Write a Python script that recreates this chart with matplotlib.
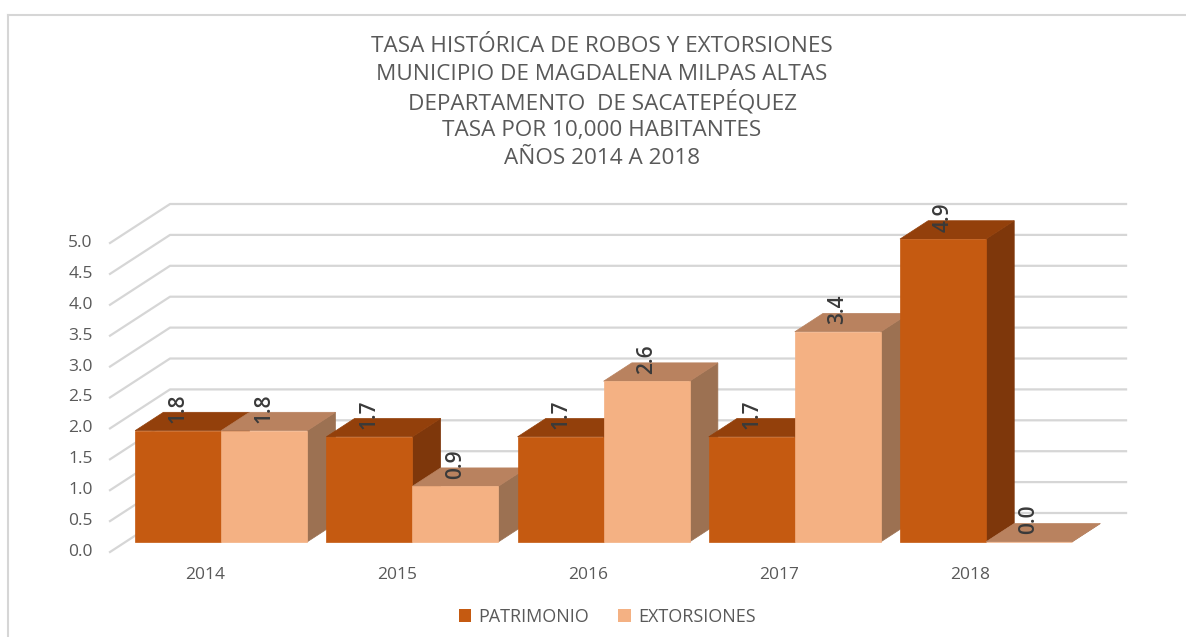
import matplotlib
matplotlib.use("Agg")
import matplotlib.pyplot as plt
from matplotlib.patches import Polygon, Patch
from matplotlib.lines import Line2D

# data
years = ["2014", "2015", "2016", "2017", "2018"]
patrimonio = [1.8, 1.7, 1.7, 1.7, 4.9]
extorsiones = [1.8, 0.9, 2.6, 3.4, 0.0]
series_names = ["PATRIMONIO", "EXTORSIONES"]
y_ticks = [0.0, 0.5, 1.0, 1.5, 2.0, 2.5, 3.0, 3.5, 4.0, 4.5, 5.0]
title_lines = [
    "TASA HISTÓRICA DE ROBOS Y EXTORSIONES",
    "MUNICIPIO DE MAGDALENA MILPAS ALTAS",
    "DEPARTAMENTO  DE SACATEPÉQUEZ",
    "TASA POR 10,000 HABITANTES",
    "AÑOS 2014 A 2018",
]

# colours: front, top, side
pat_cols = ("#C55A11", "#93400B", "#7E370B")
ext_cols = ("#F4B183", "#B9825F", "#9C7152")
grid_col = "#D6D6D6"
text_col = "#595959"
font = "Open Sans"

W, H = 1186, 637
fig = plt.figure(figsize=(W / 100, H / 100), dpi=100)
# axes = front plane of the 3d box
ax = fig.add_axes([110 / W, (H - 552) / H, 956 / W, 309 / H])
ax.set_xlim(-0.5, len(years) - 0.5)
ax.set_ylim(0, 5)
ax.axis("off")

DX, DY = 0.314, 0.631   # offset of the back wall in data units
d0, d1 = 0.26, 0.73     # bar depth range
bw = 0.45


def P(x, v, d):
    return (x + d * DX, v + d * DY)


# walls: gridlines on the left side wall and back wall
for v in y_ticks:
    xs = [-0.5, -0.5 + DX, len(years) - 0.5 + DX]
    ys = [v, v + DY, v + DY]
    ax.plot(xs, ys, color=grid_col, lw=1.6, clip_on=False, zorder=1)
    ax.text(-0.59, v, f"{v:.1f}", ha="right", va="center", fontsize=12.5,
            color=text_col, family=font)

z = 2
for i, yr in enumerate(years):
    for s, (vals, cols) in enumerate([(patrimonio, pat_cols), (extorsiones, ext_cols)]):
        v = vals[i]
        x0 = i - bw + s * bw
        x1 = x0 + bw
        front = [P(x0, 0, d0), P(x1, 0, d0), P(x1, v, d0), P(x0, v, d0)]
        top = [P(x0, v, d0), P(x1, v, d0), P(x1, v, d1), P(x0, v, d1)]
        side = [P(x1, 0, d0), P(x1, 0, d1), P(x1, v, d1), P(x1, v, d0)]
        for poly, c in [(side, cols[2]), (top, cols[1]), (front, cols[0])]:
            ax.add_patch(Polygon(poly, closed=True, facecolor=c, edgecolor=c,
                                 lw=0.5, clip_on=False, zorder=z))
        z += 1
        lx, ly = P((x0 + x1) / 2, v, 0.5)
        ax.text(x0 + bw / 2 + d0 * DX, ly - 0.03, f"{v:.1f}", rotation=90,
                ha="center", va="bottom", fontsize=15, color="#3A3A3A",
                family=font, fontweight="semibold", zorder=50)
    ax.text(i, -0.37, yr, ha="center", va="center", fontsize=12.5,
            color=text_col, family=font)

# title, one line at a time for even spacing
for k, line in enumerate(title_lines):
    fig.text(602 / W, 1 - (46 + 28.2 * k) / H, line, ha="center", va="center",
             fontsize=16.2, color=text_col, family=font)

handles = [Patch(facecolor=pat_cols[0]), Patch(facecolor=ext_cols[0])]
fig.legend(handles, series_names, loc="center", bbox_to_anchor=(607 / W, 20 / H),
           ncol=2, frameon=False, handlelength=0.7, handleheight=0.7,
           handletextpad=0.4, columnspacing=1.6,
           prop={"family": font, "size": 13}, labelcolor=text_col)

# chart border (top and left)
fig.add_artist(Line2D([8 / W, 1], [1 - 15 / H, 1 - 15 / H], color=grid_col, lw=1.5))
fig.add_artist(Line2D([8 / W, 8 / W], [0, 1 - 15 / H], color=grid_col, lw=1.5))

fig.savefig("out.png", dpi=100)
